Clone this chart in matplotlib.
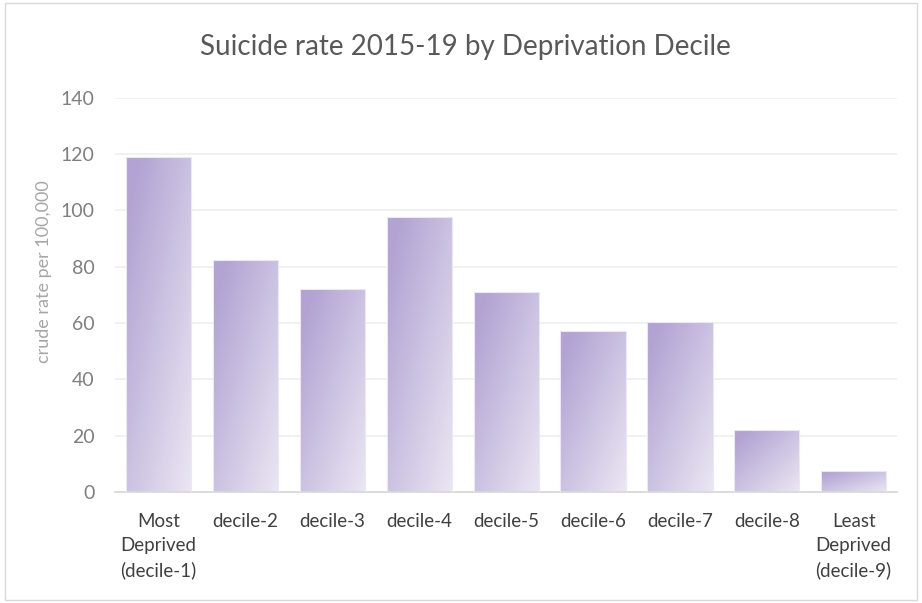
import matplotlib.pyplot as plt
import numpy as np
from matplotlib.patches import Rectangle

plt.rcParams["font.family"] = ["Lato", "DejaVu Sans"]

categories = [
    "Most\nDeprived\n(decile-1)",
    "decile-2",
    "decile-3",
    "decile-4",
    "decile-5",
    "decile-6",
    "decile-7",
    "decile-8",
    "Least\nDeprived\n(decile-9)",
]
rates = [119, 82.5, 72, 97.5, 71, 57, 60.5, 22, 7.5]
yticks = [0, 20, 40, 60, 80, 100, 120, 140]

dark = np.array([178, 163, 211]) / 255
light = np.array([235, 231, 243]) / 255


def gradient_img(n=200):
    # diagonal gradient, top-left dark -> bottom-right light
    u = np.linspace(0, 1, n)
    uu, vv = np.meshgrid(u, u)
    t = (uu + vv) / 2
    t = np.clip((t - 0.1) / 0.9, 0, 1)
    return dark * (1 - t[..., None]) + light * t[..., None]


fig = plt.figure(figsize=(9.22, 6.03), dpi=100)
ax = fig.add_axes([0.125, 0.184, 0.848, 0.654])

x = np.arange(len(categories))
width = 0.75
bars = ax.bar(x, rates, width=width, color="none", edgecolor="#ECE8F3",
              linewidth=0.8, zorder=3)
img = gradient_img()
for b in bars:
    x0, y0 = b.get_x(), b.get_y()
    w, h = b.get_width(), b.get_height()
    im = ax.imshow(img, extent=[x0, x0 + w, y0, y0 + h], origin="upper",
                   aspect="auto", zorder=2, interpolation="bilinear")
    im.set_clip_path(b)

ax.set_xlim(-0.5, len(categories) - 0.5)
ax.set_ylim(0, 140)
ax.set_yticks(yticks)
ax.set_xticks(x)
ax.set_xticklabels(categories, fontsize=13.5, color="#404040",
                   linespacing=1.48, va="top")
ax.tick_params(axis="y", labelsize=14, colors="#7F7F7F", length=0, pad=15)
ax.tick_params(axis="x", length=0, pad=15)
ax.grid(axis="y", color="#F0F0F0", linewidth=1.3, zorder=0)
for s in ["top", "right", "left"]:
    ax.spines[s].set_visible(False)
ax.spines["bottom"].set_color("#D9D9D9")
ax.spines["bottom"].set_linewidth(1.3)

fig.text(0.0477, 0.549, "crude rate per 100,000", rotation=90,
         ha="center", va="center", fontsize=13, color="#A6A6A6")

fig.text(0.505, 0.922, "Suicide rate 2015-19 by Deprivation Decile",
         ha="center", va="center", fontsize=20, color="#595959")

fig.patches.append(Rectangle((0.005, 0.005), 0.99, 0.99,
                             transform=fig.transFigure, fill=False,
                             edgecolor="#D9D9D9", linewidth=1))

fig.savefig("out.png", dpi=100)
